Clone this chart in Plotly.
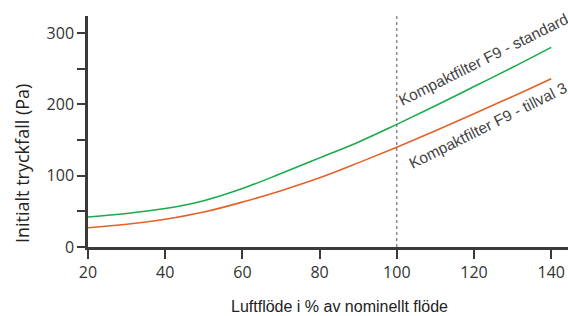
import plotly.graph_objects as go

flow = [20, 30, 40, 50, 60, 70, 80, 90, 100, 110, 120, 130, 140]
standard = [42, 47, 54, 65, 82, 103, 125, 147, 172, 198, 225, 252, 280]
tillval3 = [27, 32, 39, 49, 63, 79, 97, 118, 140, 163, 187, 211, 236]
y_ticks = [0, 100, 200, 300]
y_minor = [50, 150, 250]
x_ticks = [20, 40, 60, 80, 100, 120, 140]
nominal = 100

W, H = 568, 316

fig = go.Figure()
fig.add_trace(go.Scatter(x=flow, y=standard, mode="lines", line=dict(color="#1aab4b", width=1.6, shape="spline"), showlegend=False))
fig.add_trace(go.Scatter(x=flow, y=tillval3, mode="lines", line=dict(color="#e2622a", width=1.6, shape="spline"), showlegend=False))

fig.add_shape(type="line", x0=nominal, x1=nominal, y0=0, y1=1, yref="paper", xref="x",
              line=dict(color="#555555", width=1, dash="dot"))

ann_font = dict(family="Liberation Sans Narrow, Arial Narrow, Liberation Sans", size=15.5, color="#444444")
fig.add_annotation(x=122.4, y=263, text="Kompaktfilter F9 - standard", showarrow=False,
                   textangle=-26.5, font=ann_font, xanchor="center", yanchor="middle")
fig.add_annotation(x=123.5, y=170, text="Kompaktfilter F9 - tillval 3", showarrow=False,
                   textangle=-26.5, font=ann_font, xanchor="center", yanchor="middle")

# axis titles (positioned in paper fractions)
pl, pr, pt, pb = 88, 0, 16, 69
pw, ph = W - pl - pr, H - pt - pb
def px_to_paper(px, py):
    return (px - pl) / pw, (H - pb - py) / ph

tx, ty = px_to_paper(22, 164)
fig.add_annotation(x=tx, y=ty, xref="paper", yref="paper", text="Initialt tryckfall (Pa)", showarrow=False,
                   textangle=-90, font=dict(family="Open Sans", size=18, color="#222222"),
                   xanchor="center", yanchor="middle")
tx, ty = px_to_paper(339, 306)
fig.add_annotation(x=tx, y=ty, xref="paper", yref="paper", text="Luftflöde i % av nominellt flöde", showarrow=False,
                   font=dict(family="Liberation Sans", size=16, color="#222222"),
                   xanchor="center", yanchor="middle")

axis_col = "#3a3a3a"
fig.update_xaxes(range=[20, 144.35], tickvals=x_ticks, ticks="outside", ticklen=9, tickwidth=2, tickcolor=axis_col,
                 showline=True, linecolor=axis_col, linewidth=2.5, showgrid=False, zeroline=False, automargin=False,
                 tickfont=dict(family="Open Sans", size=16, color="#333333"))
fig.update_yaxes(range=[0, 324], tickvals=y_ticks, ticks="outside", ticklen=8, tickwidth=2, tickcolor=axis_col,
                 minor=dict(tickvals=y_minor, ticks="outside", ticklen=8, tickwidth=2, tickcolor=axis_col),
                 showline=True, linecolor=axis_col, linewidth=2.5, showgrid=False, zeroline=False, automargin=False,
                 tickfont=dict(family="Open Sans", size=16, color="#333333"))

fig.update_layout(width=W, height=H, margin=dict(l=pl, r=pr, t=pt, b=pb),
                  plot_bgcolor="white", paper_bgcolor="white")
fig.write_html("out.html", config={"displayModeBar": False},
               post_script="document.body.style.margin='0';document.body.style.overflow='hidden';")
